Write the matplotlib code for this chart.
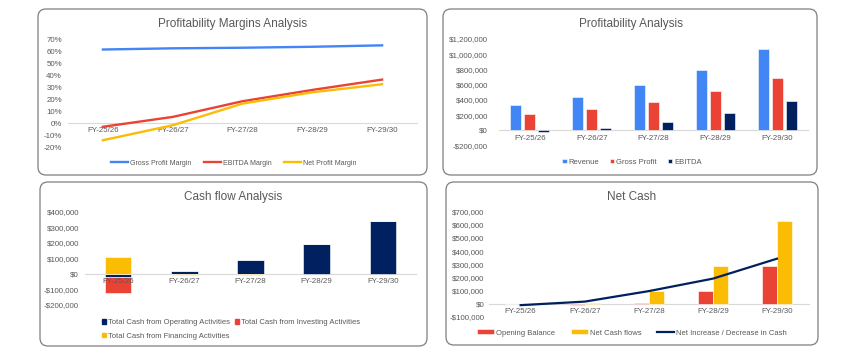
import matplotlib
matplotlib.use('Agg')
import matplotlib.pyplot as plt
import numpy as np
from matplotlib.patches import FancyBboxPatch, Patch
from matplotlib.ticker import FuncFormatter

plt.rcParams['font.family'] = ['Liberation Sans', 'DejaVu Sans']

W, H = 850, 353

years = ['FY-25/26', 'FY-26/27', 'FY-27/28', 'FY-28/29', 'FY-29/30']

# margins (%)
gross_margin = [62.0, 63.0, 63.5, 64.3, 65.5]
ebitda_margin = [-3.0, 5.3, 18.5, 28.0, 36.7]
net_margin = [-14.3, -1.7, 16.5, 26.0, 32.8]

# profitability ($)
revenue = [336000, 444000, 597000, 793000, 1064000]
gross_profit = [214000, 280000, 379000, 519000, 693000]
ebitda = [-15000, 31000, 110000, 227000, 388000]

# cash flow ($)
cash_operating = [-22000, 17000, 88000, 190000, 338000]
cash_investing = [-100000, 3000, 4000, 0, 0]
cash_financing = [108000, -5000, -4000, 0, 0]

# net cash ($)
opening_balance = [0, -12000, 3000, 98000, 288000]
net_cash_flows = [-12000, 3000, 98000, 288000, 630000]
net_change = [-12000, 15000, 95000, 190000, 342000]

BLUE = '#4285F4'
RED = '#EA4335'
YELLOW = '#FBBC04'
NAVY = '#002060'
TXT = '#595959'

fig = plt.figure(figsize=(W / 100, H / 100), dpi=100)
fig.patch.set_facecolor('white')

# background layer in pixel units for the rounded panel frames
bg = fig.add_axes([0, 0, 1, 1], zorder=-1)
bg.set_xlim(0, W)
bg.set_ylim(H, 0)
bg.axis('off')
for x0, y0, x1, y1 in [(38, 9, 427, 175), (443, 9, 817, 175),
                       (40, 182, 427, 346), (446, 182, 818, 345)]:
    bg.add_patch(FancyBboxPatch((x0, y0), x1 - x0, y1 - y0,
                                boxstyle='round,pad=0,rounding_size=8',
                                fc='white', ec='#7f7f7f', lw=0.9))


def px_axes(x0, x1, ytop, ybot):
    return fig.add_axes([x0 / W, 1 - ybot / H, (x1 - x0) / W, (ybot - ytop) / H])


def money(v, _):
    if abs(v) < 1e-6:
        return '$0'
    return ('-$' if v < 0 else '$') + f'{abs(v):,.0f}'


def style(ax, ticks, fmt, pad):
    ax.set_xlim(-0.5, 4.5)
    ax.set_ylim(ticks[0], ticks[-1])
    ax.set_yticks(ticks)
    ax.yaxis.set_major_formatter(FuncFormatter(fmt))
    ax.set_xticks(range(len(years)))
    ax.set_xticklabels(years)
    for s in ['top', 'right', 'left']:
        ax.spines[s].set_visible(False)
    ax.spines['bottom'].set_position(('data', 0))
    ax.spines['bottom'].set_color('#d9d9d9')
    ax.spines['bottom'].set_linewidth(0.8)
    ax.spines['bottom'].set_zorder(0.5)
    ax.tick_params(length=0, labelsize=5.7, labelcolor=TXT)
    ax.tick_params(axis='y', pad=pad)
    ax.tick_params(axis='x', pad=3)
    ax.patch.set_alpha(0)


def title(x, y, s):
    fig.text(x / W, 1 - y / H, s, ha='center', va='baseline', fontsize=8.5, color=TXT)


x = np.arange(len(years))

# ---- Profitability Margins Analysis
ax1 = px_axes(68, 417, 40, 147)
ax1.plot(x, gross_margin, color=BLUE, lw=1.7, label='Gross Profit Margin')
ax1.plot(x, ebitda_margin, color=RED, lw=1.7, label='EBITDA Margin')
ax1.plot(x, net_margin, color=YELLOW, lw=1.7, label='Net Profit Margin')
style(ax1, np.arange(-20, 71, 10), lambda v, _: f'{v:.0f}%', 4.3)
title(233, 27.3, 'Profitability Margins Analysis')
h, l = ax1.get_legend_handles_labels()
fig.legend(h, l, loc='center', bbox_to_anchor=(233.5 / W, 1 - 163.3 / H), ncol=3,
           frameon=False, fontsize=5, labelcolor=TXT, handlelength=2.45,
           handletextpad=0.3, columnspacing=1.8, borderpad=0, borderaxespad=0)

# ---- Profitability Analysis
ax2 = px_axes(499, 808, 39, 145.7)
bw, step = 0.178, 0.227
ax2.bar(x - step, revenue, bw, color=BLUE, ec='white', lw=0.4, label='Revenue')
ax2.bar(x, gross_profit, bw, color=RED, ec='white', lw=0.4, label='Gross Profit')
ax2.bar(x + step, ebitda, bw, color=NAVY, ec='white', lw=0.4, label='EBITDA')
style(ax2, np.arange(-200000, 1200001, 200000), money, 8)
title(631, 26.7, 'Profitability Analysis')
h, l = ax2.get_legend_handles_labels()
fig.legend(h, l, loc='center', bbox_to_anchor=(632 / W, 1 - 162.3 / H), ncol=3,
           frameon=False, fontsize=5.5, labelcolor=TXT, handlelength=0.55,
           handleheight=0.55, handletextpad=0.25, columnspacing=1.45,
           borderpad=0, borderaxespad=0)

# ---- Cash flow Analysis
ax3 = px_axes(85, 416, 211.7, 305)
series = [(cash_operating, NAVY, 'Total Cash from Operating Activities'),
          (cash_investing, RED, 'Total Cash from Investing Activities'),
          (cash_financing, YELLOW, 'Total Cash from Financing Activities')]
pos = np.zeros(len(years))
neg = np.zeros(len(years))
for vals, col, lab in series:
    v = np.array(vals, dtype=float)
    bottom = np.where(v >= 0, pos, neg)
    ax3.bar(x, v, 0.4, bottom=bottom, color=col, ec='white', lw=0.4, label=lab)
    pos = pos + np.where(v >= 0, v, 0)
    neg = neg + np.where(v < 0, v, 0)
style(ax3, np.arange(-200000, 400001, 100000), money, 4.3)
title(233, 200, 'Cash flow Analysis')
order = [series[0][2], series[2][2], series[1][2]]
fig.legend([Patch(color=c) for c in [NAVY, YELLOW, RED]], order,
           loc='center left', bbox_to_anchor=(101.5 / W, 1 - 329.5 / H), ncol=2,
           frameon=False, fontsize=5.5, labelcolor=TXT, handlelength=0.55,
           handleheight=0.55, handletextpad=0.25, columnspacing=0.65,
           labelspacing=0.85, borderpad=0, borderaxespad=0)

# ---- Net Cash
ax4 = px_axes(488.6, 809, 211.7, 316.7)
ax4.bar(x - 0.12, opening_balance, 0.235, color=RED, ec='white', lw=0.4, label='Opening Balance')
ax4.bar(x + 0.12, net_cash_flows, 0.235, color=YELLOW, ec='white', lw=0.4, label='Net Cash flows')
ax4.plot(x, net_change, color=NAVY, lw=1.6, label='Net Increase / Decrease in Cash')
style(ax4, np.arange(-100000, 700001, 100000), money, 3)
title(632, 200, 'Net Cash')
h, l = ax4.get_legend_handles_labels()
h = [h[1], h[2], h[0]]
l = [l[1], l[2], l[0]]
fig.legend(h, l, loc='center', bbox_to_anchor=(632 / W, 1 - 333 / H), ncol=3,
           frameon=False, fontsize=5.5, labelcolor=TXT, handlelength=2.2,
           handleheight=0.55, handletextpad=0.25, columnspacing=2.1,
           borderpad=0, borderaxespad=0)

fig.savefig('out.png', dpi=100, facecolor='white')
